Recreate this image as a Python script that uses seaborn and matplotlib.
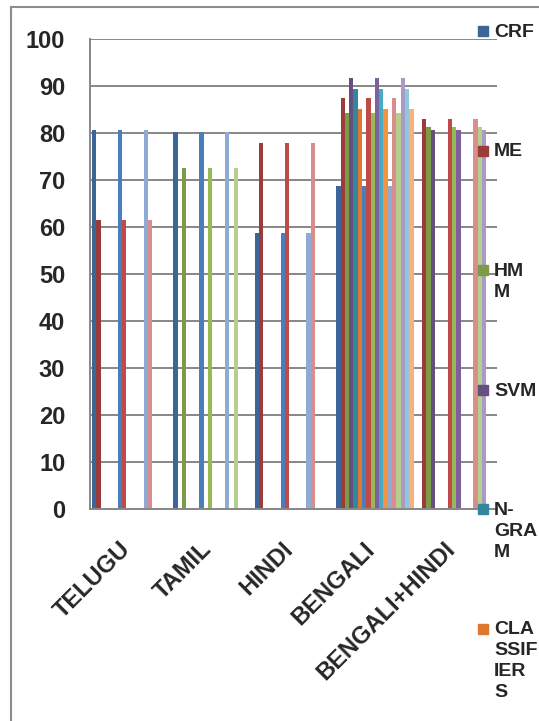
import numpy as np
import pandas as pd
import matplotlib
matplotlib.use('Agg')
import matplotlib.pyplot as plt
import matplotlib.transforms as mtransforms
import seaborn as sns
from matplotlib.patches import Rectangle
from matplotlib.lines import Line2D
from matplotlib import font_manager as fm

# ── Data ───────────────────────────────────────────────────────────────────
categories = ['TELUGU', 'TAMIL', 'HINDI', 'BENGALI', 'BENGALI+HINDI']
methods = ['CRF', 'ME', 'HMM', 'SVM', 'N-GRAM', 'CLASSIFIERS']
legend_labels = ['CRF', 'ME', 'HM\nM', 'SVM', 'N-\nGRA\nM', 'CLA\nSSIF\nIER\nS']

crf = [80.6, 80.1, 58.6, 68.6, np.nan]
me = [61.4, np.nan, 77.8, 87.4, 83.0]
hmm = [np.nan, 72.6, np.nan, 84.2, 81.3]
svm = [np.nan, np.nan, np.nan, 91.8, 80.6]
ngram = [np.nan, np.nan, np.nan, 89.3, np.nan]
classifiers = [np.nan, np.nan, np.nan, 85.0, np.nan]
n_sets = 3   # the same six series appear three times (dark / normal / light)

colors_dark = ['#3E6598', '#9A3C39', '#7D9A46', '#644F7F', '#32879E', '#DD782E']
colors_mid = ['#4A7EBB', '#BE4B48', '#98B954', '#7D60A0', '#46AAC5', '#F69240']
colors_light = ['#8FAAD3', '#D88E8C', '#B7CF8C', '#AB9AC5', '#8CC9DB', '#F9B07C']

values = [crf, me, hmm, svm, ngram, classifiers]
rows = []
for s in range(n_sets):
    for m, vals in zip(methods, values):
        for c, v in zip(categories, vals):
            if not np.isnan(v):
                rows.append((c, f'{m} ({s + 1})', v))
df = pd.DataFrame(rows, columns=['category', 'series', 'value'])
hue_order = [f'{m} ({s + 1})' for s in range(n_sets) for m in methods]
palette = dict(zip(hue_order, colors_dark + colors_mid + colors_light))

# ── Font: use the bold Arial-like file directly ────────────────────────────
def bold_font(size):
    for fam in ['Liberation Sans', 'Arimo', 'Roboto', 'Noto Sans', 'Open Sans', 'Lato', 'Inter']:
        for f in fm.fontManager.ttflist:
            fn = f.fname.lower()
            if f.name == fam and 'italic' not in fn and 'narrow' not in fn and \
                    ('bold' in fn or f.weight in (700, 'bold')) and 'semi' not in fn and 'extra' not in fn:
                return fm.FontProperties(fname=f.fname, size=size)
    return fm.FontProperties(family='DejaVu Sans', weight='bold', size=size)

tick_font = bold_font(17)
legend_font = bold_font(14)

# ── Plot ───────────────────────────────────────────────────────────────────
sns.set_style('white')
plt.rcParams['font.family'] = ['Liberation Sans', 'DejaVu Sans']
grey = '#878787'

W, H = 539, 721
fig = plt.figure(figsize=(W / 100, H / 100), dpi=100)
ax = fig.add_axes([90 / W, 1 - 508.7 / H, 407 / W, 469.7 / H])

sns.barplot(data=df, x='category', y='value', hue='series', order=categories,
            hue_order=hue_order, palette=palette, width=0.95, errorbar=None,
            saturation=1, linewidth=0, legend=False, ax=ax)

ax.set_xlim(-0.5, 4.5)
ax.set_ylim(0, 100)
ax.set_yticks(range(0, 101, 10))
ax.yaxis.grid(True, color=grey, lw=1.4)
ax.set_axisbelow(True)
ax.set_xlabel('')
ax.set_ylabel('')
for side in ['top', 'right']:
    ax.spines[side].set_visible(False)
for side in ['left', 'bottom']:
    ax.spines[side].set_color(grey)
    ax.spines[side].set_linewidth(1.4)

ax.set_xticks(range(len(categories)))
ax.set_xticklabels(categories, rotation=45, ha='right', va='top', fontproperties=tick_font)
ax.set_xticks(np.arange(-0.5, len(categories), 1), minor=True)
ax.tick_params(axis='x', which='major', length=0, pad=21)
ax.tick_params(axis='x', which='minor', length=4.3, width=1.4, color=grey, direction='out')
ax.tick_params(axis='y', length=5.8, width=1.4, color=grey, direction='out', pad=12)
for t in ax.get_yticklabels():
    t.set_fontproperties(tick_font)
shift = mtransforms.ScaledTranslation(4 / 100, 0, fig.dpi_scale_trans)
for t in ax.get_xticklabels():
    t.set_transform(t.get_transform() + shift)

# ── Chart border (cut off at right/bottom) ─────────────────────────────────
fig.add_artist(Line2D([11 / W, 11 / W], [0, 1 - 7 / H], transform=fig.transFigure, color='#8c8c8c', lw=1.5))
fig.add_artist(Line2D([11 / W, 1], [1 - 7 / H, 1 - 7 / H], transform=fig.transFigure, color='#8c8c8c', lw=1.5))

# ── Legend (first six series only, Excel style) ────────────────────────────
for i, lab in enumerate(legend_labels):
    yc = 31 + 119.5 * i
    fig.add_artist(Rectangle((478 / W, 1 - (yc + 5) / H), 10 / W, 10 / H,
                             transform=fig.transFigure, color=colors_dark[i], zorder=5))
    fig.text(494 / W, 1 - (yc - 7) / H, lab, ha='left', va='top',
             fontproperties=legend_font, linespacing=1.3, zorder=6)

plt.savefig('out.png', dpi=100)
plt.close()
